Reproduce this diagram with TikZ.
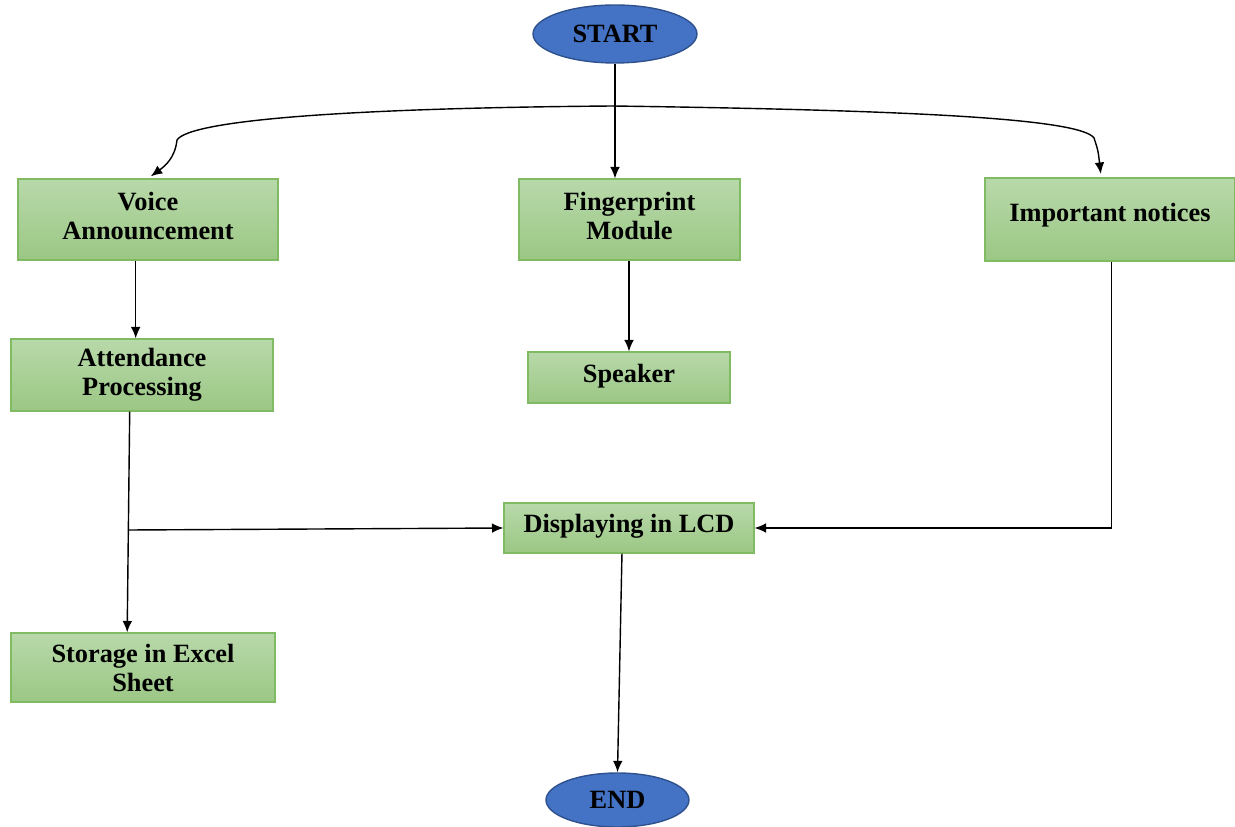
\documentclass[tikz,border=0pt]{standalone}
\usepackage{fontspec}
\setmainfont{Liberation Serif}
\usetikzlibrary{shapes.geometric,arrows.meta}
\definecolor{boxtop}{RGB}{184,217,170}
\definecolor{boxbot}{RGB}{155,199,132}
\definecolor{boxline}{RGB}{128,186,98}
\definecolor{ovalfill}{RGB}{68,114,196}
\definecolor{ovalline}{RGB}{47,82,143}

\begin{document}
\begin{tikzpicture}[x=0.02cm,y=0.02cm,>={Latex[length=6.5pt,width=5.5pt]},
      every node/.style={font=\fontsize{15}{16.5}\selectfont\bfseries, align=center},
      stepbox/.style={rectangle, draw=boxline, line width=0.7pt, top color=boxtop, bottom color=boxbot},
      oval/.style={ellipse, draw=ovalline, line width=0.8pt, fill=ovalfill, inner sep=0pt},
      link/.style={->, line width=0.8pt}]
      \useasboundingbox (0,0) rectangle (1235,-827);
      % terminals
      \node [oval, minimum width=3.28cm, minimum height=1.16cm] (start) at (615,-34) {START};
      \node [oval, minimum width=2.86cm, minimum height=1.08cm] (end) at (617.5,-800) {END};
      % boxes
      \node [stepbox, minimum width=5.2cm, minimum height=1.62cm, text depth=4pt] (voice) at (148,-219.5) {Voice\\Announcement};
      \node [stepbox, minimum width=4.42cm, minimum height=1.62cm, text depth=4pt] (finger) at (629.5,-219.5) {Fingerprint\\Module};
      \node [stepbox, minimum width=5cm, minimum height=1.66cm, text depth=8pt] (notices) at (1110,-219.5) {Important notices};
      \node [stepbox, minimum width=5.24cm, minimum height=1.44cm] (attend) at (142,-375) {Attendance\\Processing};
      \node [stepbox, minimum width=4.04cm, minimum height=1.02cm, text depth=5pt] (speaker) at (629,-377.5) {Speaker};
      \node [stepbox, minimum width=5cm, minimum height=1cm, text depth=5pt] (lcd) at (629,-528) {Displaying in LCD};
      \node [stepbox, minimum width=5.28cm, minimum height=1.38cm] (store) at (143,-667.5) {Storage in Excel\\Sheet};
      % connectors
      \draw [link] (start.south) -- (start.south |- finger.north);
      \coordinate (split) at (613,-106);
      \draw [link, shorten >=2pt] (split) .. controls (350,-108) and (190,-120) .. (177,-140)
            .. controls (175,-158) and (165,-166) .. (voice.north);
      \draw [link, shorten >=2pt] (split) .. controls (900,-110) and (1080,-118) .. (1094,-138)
            .. controls (1098,-150) .. ([xshift=-5pt]notices.north);
      \draw [link] ([xshift=-7pt]voice.south) -- ([xshift=-7pt]voice.south |- attend.north);
      \draw [link] (finger.south -| speaker.north) -- (speaker.north);
      \draw [link] ([xshift=-7pt]attend.south) -- ([xshift=-9pt]store.north);
      \coordinate (branch) at (129,-530);
      \draw [link] (branch) -- (lcd.west);
      \draw [link] ([xshift=1pt]notices.south) |- (lcd.east);
      \draw [link] ([xshift=-4pt]lcd.south) -- (end.north);
\end{tikzpicture}
\end{document}
